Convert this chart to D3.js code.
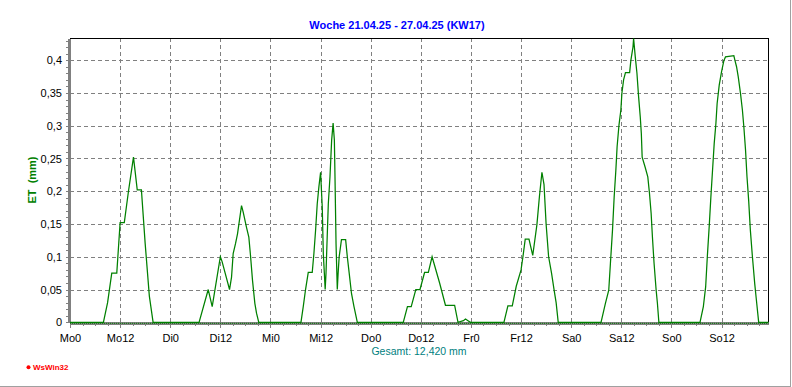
<!DOCTYPE html>
<html>
<head>
<meta charset="utf-8">
<script src="https://cdn.jsdelivr.net/npm/d3@7"></script>
<style>
	body { margin: 0; background: #fff; }
	svg { display: block; font-family: "Liberation Sans", Arial, sans-serif; }
	.grid line { stroke: #808080; stroke-dasharray: 4,3; shape-rendering: crispEdges; }
	.axis path, .axis line { stroke: #808080; shape-rendering: crispEdges; }
	.axis text { fill: #000; font-size: 11px; }
</style>
</head>
<body>
<script>
// DATA - ET (mm) per day, [hour of day, value]
var days = ["Mo", "Di", "Mi", "Do", "Fr", "Sa", "So"]

var etMo = [[0, 0], [8, 0], [9, 0.03], [10, 0.075], [11.2, 0.075], [12, 0.152], [13, 0.152], [14, 0.2], [15.2, 0.252], [16.1, 0.202], [17.1, 0.202], [18, 0.12], [19, 0.04], [19.9, 0]]
var etDi = [[6.9, 0], [9.1, 0.05], [10.05, 0.024], [12, 0.1], [12.4, 0.093], [14.2, 0.05], [14.68, 0.069], [15.07, 0.105], [15.63, 0.12], [16.11, 0.135], [16.67, 0.16], [17.07, 0.178], [17.47, 0.168], [18.26, 0.145], [18.82, 0.13], [19.22, 0.102], [19.7, 0.064], [20.26, 0.029], [20.66, 0.014], [21.2, 0]]
var etMi = [[7.3, 0], [7.85, 0.024], [8.4, 0.05], [9.05, 0.076], [10, 0.076], [10.4, 0.105], [10.8, 0.14], [11.2, 0.181], [11.6, 0.207], [12, 0.229], [12.15, 0.209], [12.4, 0.176], [12.65, 0.105], [12.9, 0.075], [13.1, 0.05], [13.3, 0.075], [13.45, 0.105], [13.85, 0.181], [14.25, 0.222], [14.65, 0.278], [15, 0.304], [15.3, 0.278], [15.45, 0.222], [15.7, 0.12], [16, 0.05], [16.2, 0.075], [16.45, 0.1], [17, 0.126], [18, 0.126], [18.4, 0.1], [18.85, 0.075], [19.4, 0.044], [20, 0.024], [20.8, 0]]
var etDo = [[7.8, 0], [8.8, 0.024], [9.7, 0.024], [10.8, 0.05], [11.8, 0.05], [12.9, 0.076], [13.8, 0.076], [14.7, 0.1], [16.5, 0.06], [17.9, 0.026], [20.1, 0.026], [20.9, 0], [22.2, 0.0025], [22.7, 0.005], [23.3, 0.0025], [23.9, 0]]
var etFr = [[7.9, 0], [8.85, 0.025], [9.9, 0.025], [10.85, 0.055], [12, 0.08], [12.45, 0.1], [13, 0.127], [13.9, 0.127], [14.8, 0.102], [15.8, 0.149], [16.4, 0.192], [17, 0.229], [17.5, 0.21], [18, 0.15], [18.6, 0.1], [19.3, 0.075], [19.9, 0.05], [20.4, 0.03], [20.9, 0]]
var etSa = [[7.15, 0], [8.2, 0.029], [9, 0.049], [9.4, 0.09], [9.9, 0.141], [10.3, 0.192], [10.7, 0.232], [11, 0.268], [11.45, 0.301], [11.9, 0.324], [12.15, 0.35], [12.55, 0.37], [13, 0.381], [14, 0.381], [14.3, 0.4], [14.8, 0.42], [14.95, 0.433], [15.35, 0.405], [15.75, 0.38], [16.15, 0.344], [16.55, 0.313], [16.8, 0.288], [17, 0.252], [17.7, 0.237], [18.35, 0.222], [18.75, 0.197], [19.15, 0.166], [19.45, 0.131], [19.85, 0.09], [20.35, 0.049], [20.65, 0.029], [21, 0]]
var etSo = [[6.85, 0], [7.65, 0.024], [8.2, 0.054], [8.6, 0.1], [9.05, 0.146], [9.45, 0.191], [9.85, 0.232], [10.25, 0.273], [10.65, 0.303], [10.95, 0.334], [11.45, 0.362], [12, 0.382], [12.55, 0.399], [12.95, 0.405], [14.95, 0.407], [15.2, 0.4], [15.6, 0.39], [16, 0.375], [16.55, 0.349], [17, 0.324], [17.35, 0.298], [17.75, 0.263], [18.1, 0.222], [18.5, 0.186], [18.9, 0.141], [19.4, 0.1], [19.95, 0.059], [20.35, 0.034], [20.9, 0], [23.25, 0]]

var xTicks = d3.range(0, 168, 12) // Mo0 .. So12
var xMinor = d3.range(0, 168, 3)
var yTicks = [0, 0.05, 0.1, 0.15, 0.2, 0.25, 0.3, 0.35, 0.4]
var yMinor = d3.range(0, 0.431, 0.01)

var title = "Woche 21.04.25 - 27.04.25 (KW17)"
var yLabel = "ET  (mm)"
var total = "Gesamt: 12,420 mm"

// CONFIG
var W = 792, H = 387
var plot = { left: 70, right: 768.5, top: 38.3, bottom: 322.3 }
var xMax = 167.25, yMax = 0.4334

var series = [etMo, etDi, etMi, etDo, etFr, etSa, etSo].flatMap(function(pts, d) {
	return pts.map(function(p) { return { t: d * 24 + p[0], v: p[1] } })
})

var x = d3.scaleLinear().domain([0, xMax]).range([plot.left, plot.right])
var y = d3.scaleLinear().domain([0, yMax]).range([plot.bottom, plot.top])

var de = d3.formatLocale({ decimal: ",", thousands: ".", grouping: [3], currency: ["", " €"] })
var fmt = de.format("~g")

var svg = d3.select("body").append("svg")
	.attr("width", W)
	.attr("height", H)

// window frame
svg.append("line").attr("x1", 790.5).attr("x2", 790.5).attr("y1", 0).attr("y2", 387).attr("stroke", "#a0a0a0")
svg.append("line").attr("x1", 0).attr("x2", 791).attr("y1", 386.5).attr("y2", 386.5).attr("stroke", "#a0a0a0")

// grid
var grid = svg.append("g").attr("class", "grid")
grid.selectAll(".gx").data(xTicks.slice(1)).enter().append("line")
	.attr("x1", function(d) { return Math.round(x(d)) + 0.5 })
	.attr("x2", function(d) { return Math.round(x(d)) + 0.5 })
	.attr("y1", plot.top).attr("y2", plot.bottom)
grid.selectAll(".gy").data(yTicks.slice(1)).enter().append("line")
	.attr("x1", plot.left).attr("x2", plot.right)
	.attr("y1", function(d) { return Math.round(y(d)) + 0.5 })
	.attr("y2", function(d) { return Math.round(y(d)) + 0.5 })

// top + right border
svg.append("path")
	.attr("d", "M" + plot.left + "," + (plot.top) + "H" + plot.right + "V" + plot.bottom)
	.attr("fill", "none").attr("stroke", "#000").attr("shape-rendering", "crispEdges")

// axes
svg.append("g").attr("class", "axis")
	.attr("transform", "translate(0," + (plot.bottom + 0.5) + ")")
	.call(d3.axisBottom(x).tickValues(xMinor).tickSize(3).tickSizeOuter(0).tickFormat(""))
	.select(".domain").attr("stroke-width", 3)

svg.append("g").attr("class", "axis")
	.attr("transform", "translate(0," + (plot.bottom + 0.5) + ")")
	.call(d3.axisBottom(x).tickValues(xTicks).tickSize(5).tickSizeOuter(0).tickPadding(6)
		.tickFormat(function(h) { return days[Math.floor(h / 24)] + (h % 24) }))
	.call(function(g) { g.select(".domain").remove() })

svg.append("g").attr("class", "axis")
	.attr("transform", "translate(69,0)")
	.call(d3.axisLeft(y).tickValues(yMinor).tickSize(3).tickSizeOuter(0).tickFormat(""))
	.select(".domain").attr("stroke-width", 3)

svg.append("g").attr("class", "axis")
	.attr("transform", "translate(69,0)")
	.call(d3.axisLeft(y).tickValues(yTicks).tickSize(3).tickSizeOuter(0).tickPadding(4).tickFormat(fmt))
	.call(function(g) { g.select(".domain").remove() })

// dotted zero line
svg.append("line")
	.attr("x1", plot.left).attr("x2", plot.right)
	.attr("y1", y(0) + 1).attr("y2", y(0) + 1)
	.attr("stroke", "#008000").attr("stroke-dasharray", "1,1")

// ET line
var line = d3.line()
	.x(function(d) { return x(d.t) })
	.y(function(d) { return y(d.v) })

svg.append("path")
	.datum(series)
	.attr("d", line)
	.attr("fill", "none")
	.attr("stroke", "#008000")
	.attr("stroke-width", 1.25)

// texts
svg.append("text")
	.attr("x", 397).attr("y", 29)
	.attr("text-anchor", "middle")
	.attr("font-size", "11px").attr("font-weight", "bold")
	.attr("fill", "#0000ff")
	.text(title)

svg.append("text")
	.attr("transform", "translate(36,180) rotate(-90)")
	.attr("text-anchor", "middle")
	.attr("font-size", "11px").attr("font-weight", "bold")
	.attr("fill", "#008000")
	.style("white-space", "pre")
	.text(yLabel)

svg.append("text")
	.attr("x", 419).attr("y", 355)
	.attr("text-anchor", "middle")
	.attr("font-size", "10.5px")
	.attr("fill", "#008080")
	.text(total)

svg.append("circle").attr("cx", 28.5).attr("cy", 367.3).attr("r", 2).attr("fill", "#ff0000")
svg.append("text")
	.attr("x", 33).attr("y", 370)
	.attr("font-size", "8px").attr("font-weight", "bold")
	.attr("fill", "#ff0000")
	.text("WsWin32")
</script>
</body>
</html>
